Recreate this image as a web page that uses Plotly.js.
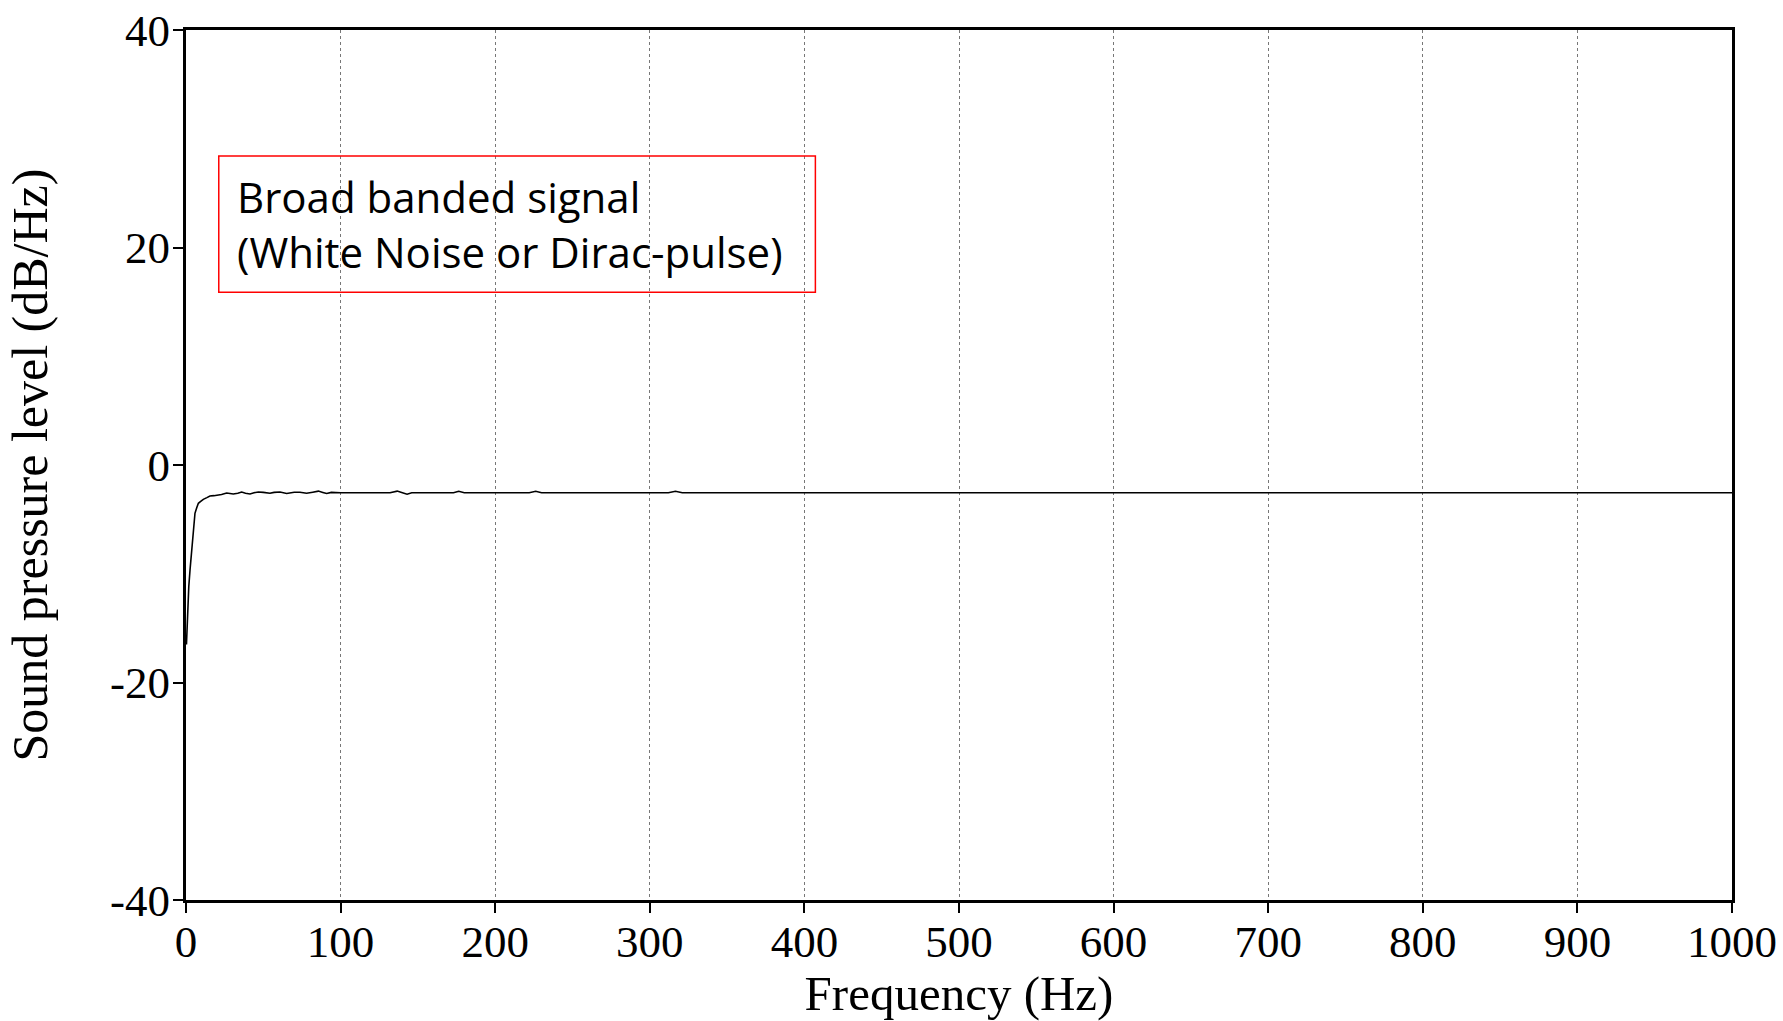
<!DOCTYPE html>
<html>
<head>
<meta charset="utf-8">
<script src="https://cdn.plot.ly/plotly-3.0.1.min.js"></script>
<style>html,body{margin:0;padding:0;background:#fff;}#chart{width:1783px;height:1021px;}</style>
</head>
<body>
<div id="chart"></div>
<script>
// Frequency (Hz)
const frequency = [0.3, 0.9, 1.8, 2.6, 3.5, 4.3, 5.1, 5.8, 7, 8, 9.5, 11.2, 13.5, 15.5, 18, 20, 23, 26.3, 28.5, 30.6, 33.5, 36, 38.5, 41.4, 44, 46.8, 50, 54.3, 57, 60.8, 65.1, 67.5, 70, 73.7, 78, 82, 85.6, 88.5, 91, 94, 97, 100, 132, 136.6, 140, 143, 146, 173, 176.4, 180, 222, 226.2, 230, 312, 316.6, 321, 1000];
// Sound pressure level (dB/Hz)
const spl = [-16.5, -13.6, -11.2, -9.66, -8.0, -6.6, -5.4, -4.44, -3.9, -3.52, -3.35, -3.16, -3.0, -2.85, -2.82, -2.79, -2.72, -2.58, -2.62, -2.67, -2.6, -2.49, -2.6, -2.67, -2.55, -2.48, -2.52, -2.6, -2.52, -2.48, -2.62, -2.55, -2.5, -2.51, -2.6, -2.5, -2.4, -2.52, -2.62, -2.52, -2.55, -2.55, -2.55, -2.4, -2.55, -2.68, -2.55, -2.55, -2.42, -2.55, -2.55, -2.42, -2.55, -2.55, -2.42, -2.55, -2.55];

const xTickVals = [0, 100, 200, 300, 400, 500, 600, 700, 800, 900, 1000];
const xTickText = ["0", "100", "200", "300", "400", "500", "600", "700", "800", "900", "1000"];
const yTickVals = [-40, -20, 0, 20, 40];
const yTickText = ["-40", "-20", "0", "20", "40"];

const xTitle = "Frequency (Hz)";
const yTitle = "Sound pressure level (dB/Hz)";
const noteText = "Broad banded signal<br>(White Noise or Dirac-pulse)";

const serif = "Liberation Serif, Times New Roman, serif";

const trace = {
  x: frequency,
  y: spl,
  type: "scatter",
  mode: "lines",
  line: {color: "#000", width: 1.6},
  hoverinfo: "skip"
};

const layout = {
  width: 1783,
  height: 1021,
  margin: {l: 186, r: 51, t: 30, b: 121},
  paper_bgcolor: "#fff",
  plot_bgcolor: "#fff",
  showlegend: false,
  font: {family: serif, color: "#000"},
  xaxis: {
    range: [0, 1000],
    tickmode: "array",
    tickvals: xTickVals,
    ticktext: xTickText,
    ticks: "outside",
    ticklen: 10,
    tickwidth: 2,
    tickcolor: "#000",
    ticklabelstandoff: -10,
    tickfont: {family: serif, size: 45, color: "#000"},
    showline: true,
    linecolor: "#000",
    linewidth: 3,
    mirror: true,
    showgrid: true,
    gridcolor: "#777",
    gridwidth: 1,
    griddash: "dot",
    zeroline: false,
    title: {text: xTitle, font: {family: serif, size: 49, color: "#000"}, standoff: 0}
  },
  yaxis: {
    range: [-40, 40],
    tickmode: "array",
    tickvals: yTickVals,
    ticktext: yTickText,
    ticks: "outside",
    ticklen: 10,
    tickwidth: 2,
    tickcolor: "#000",
    ticklabelstandoff: -6,
    tickfont: {family: serif, size: 45, color: "#000"},
    showline: true,
    linecolor: "#000",
    linewidth: 3,
    mirror: true,
    showgrid: false,
    zeroline: false,
    title: {text: yTitle, font: {family: serif, size: 50, color: "#000"}, standoff: 47}
  },
  shapes: [{
    type: "rect",
    xref: "paper", yref: "paper",
    x0: 0.0212, x1: 0.4071, y0: 0.6985, y1: 0.8552,
    line: {color: "#ff0000", width: 1.5},
    fillcolor: "rgba(255,255,255,0)"
  }],
  annotations: [{
    xref: "paper", yref: "paper",
    x: 0.032, y: 0.777,
    xanchor: "left", yanchor: "middle",
    align: "left",
    showarrow: false,
    text: noteText,
    font: {family: "Open Sans, Noto Sans, sans-serif", size: 42, color: "#000"}
  }]
};

Plotly.newPlot("chart", [trace], layout, {staticPlot: true, displayModeBar: false});
</script>
</body>
</html>
